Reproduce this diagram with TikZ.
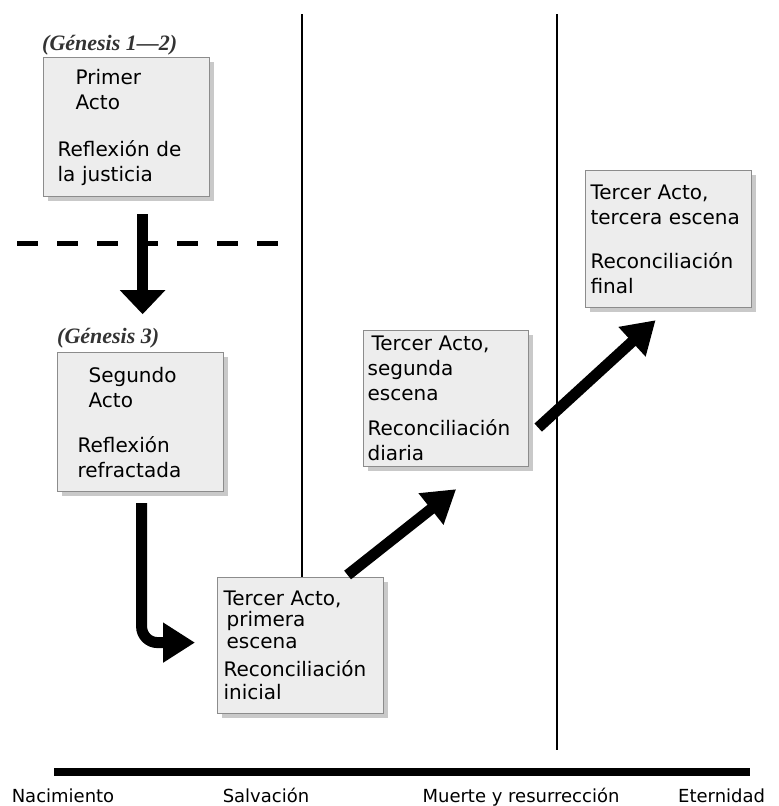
\documentclass[tikz,border=0pt]{standalone}
\usepackage{fontspec}
\setmainfont{DejaVu Sans}
\newfontfamily\gensfont{Liberation Serif}
\usetikzlibrary{arrows.meta,calc,shadows}

\tikzset{
  acto/.style={draw=black!45, line width=1.2pt, fill=black!7, anchor=north west,
    minimum width=166pt, minimum height=138pt, text width=154pt, inner xsep=6pt,
    inner ysep=4pt, align=left, font=\fontsize{20}{25}\selectfont,
    drop shadow={shadow xshift=4pt, shadow yshift=-4pt, fill=black!30, opacity=.7}},
  genesis/.style={anchor=base west, inner sep=0pt, text=black!80,
    font=\gensfont\bfseries\itshape\fontsize{22}{24}\selectfont},
  hito/.style={anchor=base, inner sep=0pt, font=\fontsize{18}{20}\selectfont},
  flecha/.style={line width=11pt, -{Triangle[length=32pt,width=38pt]}},
  eje/.style={line width=1.6pt}
}

\begin{document}
\begin{tikzpicture}[x=1pt, y=-1pt]
  \useasboundingbox (0,0) rectangle (779,806);

  \draw[eje] (302,14) -- (302,577);
  \draw[eje] (557,14) -- (557,750);
  \draw[line width=5pt, dash pattern=on 21pt off 19pt] (17,243) -- (285,243);
  \draw[line width=8pt] (54,772) -- (750,772);

  \node[genesis] (gen12) at (42,50) {(Génesis 1—2)};
  \node[genesis] (gen3) at (57,343) {(Génesis 3)};

  \node[acto, inner xsep=14pt, text width=138pt, minimum height=139pt] (primer) at (43,57)
    {\hspace*{18pt}Primer\\\hspace*{18pt}Acto\\[22pt]Reflexión de\\la justicia};
  \node[acto, inner xsep=20pt, text width=126pt, minimum height=139pt] (segundo) at (57,352)
    {\hspace*{11pt}Segundo\\\hspace*{11pt}Acto\\[20pt]Reflexión\\refractada};
  \node[acto, minimum height=136pt] (tercerA) at (217,577)
    {Tercer Acto,\\[-4pt]\hspace*{3pt}primera\\[-3pt]\hspace*{3pt}escena\\[3pt]Reconciliación\\[-2pt]inicial};
  \node[acto, minimum width=165pt, text width=157pt, inner xsep=4pt, minimum height=136pt] (tercerB) at (363,330)
    {\hspace*{4pt}Tercer Acto,\\segunda\\escena\\[10pt]Reconciliación\\diaria};
  \node[acto, text width=156pt, inner xsep=5pt, minimum height=137pt] (tercerC) at (585,170)
    {Tercer Acto,\\tercera escena\\[19pt]Reconciliación\\final};

  \node[hito] (nac) at (63,802) {Nacimiento};
  \node[hito] (salv) at (266,802) {Salvación};
  \node[hito] (muerte) at (521,802) {Muerte y resurrección};
  \node[hito, anchor=base west] (etern) at (678,802) {Eternidad};

  \draw[flecha, -{Triangle[length=24pt,width=44pt]}] ($(primer.south)+(16,17)$) -- ($(primer.south)+(16,117)$);
  \draw[flecha, rounded corners=16pt] ($(segundo.south)+(1,11)$) |- ($(tercerA.west)+(-22,-3)$);
  \draw[flecha] ($(tercerA.north)+(47,-2)$) -- ($(tercerB.south)+(10,22)$);
  \draw[flecha] ($(tercerB.east)+(9,29)$) -- ($(tercerC.south)+(-13,12)$);
\end{tikzpicture}
\end{document}
